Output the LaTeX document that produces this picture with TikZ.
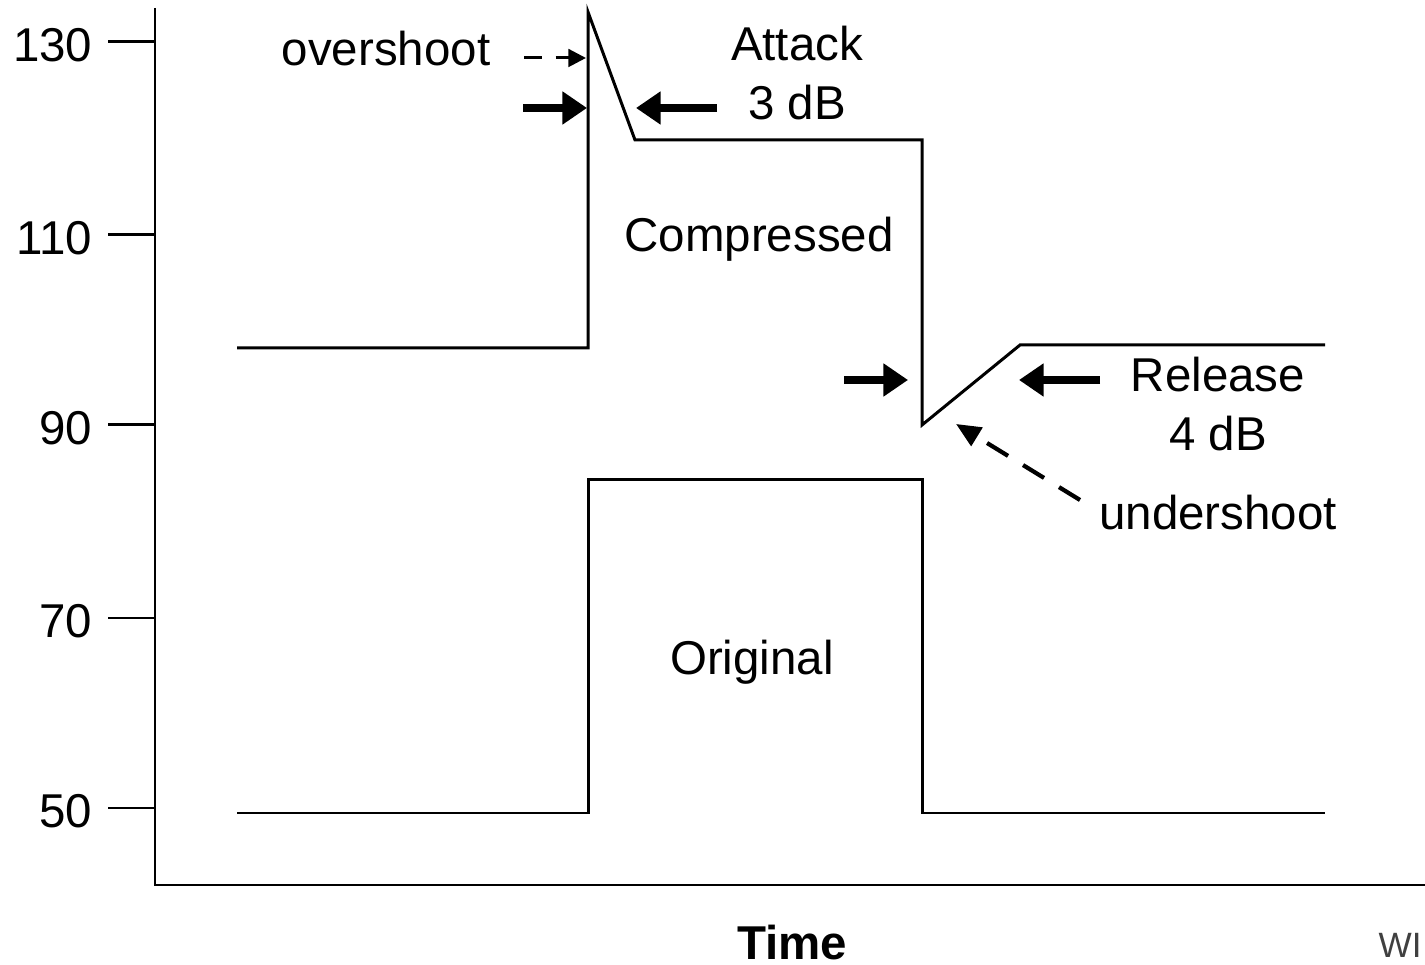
\documentclass[tikz,border=0pt]{standalone}
\usepackage{fontspec}
\setmainfont{Liberation Sans}
\usetikzlibrary{arrows.meta}
\tikzset{
	curve/.style={line width=0.85pt},
	fat/.style={line width=2.4pt, -{Triangle[length=7pt, width=9pt]}},
	thin/.style={line width=0.85pt, dashed, dash pattern=on 5pt off 4pt, -{Triangle[length=5pt, width=5pt]}},
	lbl/.style={font=\fontsize{13.5}{16}\selectfont, inner sep=0pt}
}

\begin{document}
\begin{tikzpicture}[x=0.01cm, y=-0.01cm]
		\useasboundingbox (0, 0) rectangle (1425, 965);
		% axes
		\draw [curve] (155, 8) -- (155, 885) -- (1425, 885);
		\foreach \y/\v in {42/130, 235/110, 425/90, 618/70, 808/50} {
			\draw [curve] (108, \y) -- (155, \y);
			\node [lbl, anchor=east] (tick\v) at (93, \y+3) {\v};
		}
		% compressed level
		\draw [curve] 
		(237, 348) -- (588, 348) -- (588, 12) -- (635, 140) --
		(922, 140) -- (922, 425) -- (1020, 345) -- (1325, 345);
		% original level
		\draw [curve]
		(237, 813) -- (588, 813) -- (588, 480) -- (922, 480) --
		(922, 813) -- (1325, 813);
		% labels
		\node [lbl] (over) at (386, 49) {overshoot};
		\node [lbl, align=center] (attack) at (797, 73) {Attack\\[1pt]3 dB};
		\node [lbl] (comp) at (759, 239) {Compressed};
		\node [lbl, align=center] (release) at (1218, 404) {Release\\[1pt]4 dB};
		\node [lbl] (under) at (1218, 513) {undershoot};
		\node [lbl] (orig) at (752, 662) {Original};
		\node [lbl, font=\fontsize{13.5}{16}\selectfont\bfseries] (time) at (792, 943) {Time};
		\node [anchor=base west, inner sep=0pt, text=black!75, font=\fontsize{10}{12}\selectfont] (wi) at (1378, 957) {WI};
		% attack and release marks
		\coordinate (a1) at (523, 108);
		\coordinate (a2) at (587, 108);
		\coordinate (a3) at (717, 108);
		\coordinate (a4) at (636, 108);
		\draw [fat] (a1) -- (a2);
		\draw [fat] (a3) -- (a4);
		\coordinate (r1) at (844, 380);
		\coordinate (r2) at (908, 380);
		\coordinate (r3) at (1100, 380);
		\coordinate (r4) at (1019, 380);
		\draw [fat] (r1) -- (r2);
		\draw [fat] (r3) -- (r4);
		% overshoot and undershoot
		\coordinate (o1) at (524, 58);
		\coordinate (o2) at (586, 58);
		\draw [thin] (o1) -- (o2);
		\coordinate (u1) at (1080, 500);
		\coordinate (u2) at (956, 424);
		\draw [thin, line width=1.2pt, dash pattern=on 7pt off 5pt,
			-{Triangle[length=7pt, width=6pt]}] (u1) -- (u2);
	\end{tikzpicture}
\end{document}
